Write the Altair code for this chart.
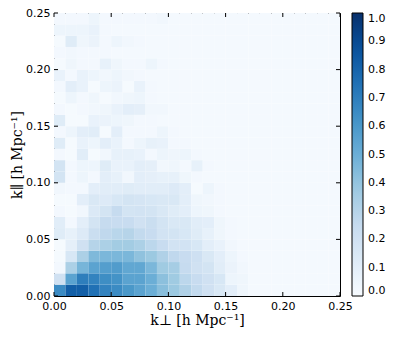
import altair as alt
import pandas as pd

# bin edges along both axes (h/Mpc)
k_edges = [0.00, 0.01, 0.02, 0.03, 0.04, 0.05, 0.06, 0.07, 0.08, 0.09, 0.10,
           0.11, 0.12, 0.13, 0.14, 0.15, 0.16, 0.17, 0.18, 0.19, 0.20,
           0.21, 0.22, 0.23, 0.24, 0.25]

tick_values = [0.0, 0.05, 0.10, 0.15, 0.20, 0.25]
cbar_values = [0.0, 0.1, 0.2, 0.3, 0.4, 0.5, 0.6, 0.7, 0.8, 0.9, 1.0]

b = 0.015  # empty background level

# normalised power, one list per k_parallel bin (bottom row first)
row_00 = [0.65, 0.82, 0.82, 0.75, 0.68, 0.65, 0.60, 0.55, 0.50, 0.43, 0.38, 0.32, 0.26, 0.20, 0.15, 0.10, 0.04, b, b, b, b, b, b, b, b]
row_01 = [0.20, 0.55, 0.70, 0.68, 0.64, 0.62, 0.55, 0.55, 0.50, 0.42, 0.37, 0.28, 0.24, 0.20, 0.16, 0.05, 0.04, b, b, b, b, b, b, b, b]
row_02 = [0.02, 0.33, 0.47, 0.55, 0.57, 0.58, 0.53, 0.53, 0.46, 0.37, 0.35, 0.25, 0.20, 0.18, 0.11, 0.06, 0.03, b, b, b, b, b, b, b, b]
row_03 = [0.01, 0.16, 0.33, 0.45, 0.46, 0.46, 0.46, 0.41, 0.38, 0.32, 0.27, 0.24, 0.21, 0.15, 0.10, 0.05, 0.02, b, b, b, b, b, b, b, b]
row_04 = [0.01, 0.09, 0.20, 0.30, 0.33, 0.36, 0.36, 0.33, 0.28, 0.24, 0.19, 0.19, 0.16, 0.10, 0.07, 0.03, b, b, b, b, b, b, b, b, b]
row_05 = [0.12, 0.08, 0.13, 0.23, 0.27, 0.29, 0.30, 0.26, 0.24, 0.19, 0.18, 0.16, 0.12, 0.08, 0.04, 0.02, b, b, b, b, b, b, b, b, b]
row_06 = [0.11, 0.02, 0.10, 0.18, 0.25, 0.24, 0.24, 0.20, 0.23, 0.18, 0.15, 0.15, 0.11, 0.10, 0.04, 0.02, b, b, b, b, b, b, b, b, b]
row_07 = [0.02, 0.01, 0.03, 0.14, 0.18, 0.25, 0.18, 0.19, 0.18, 0.15, 0.12, 0.10, 0.05, 0.04, 0.02, b, b, b, b, b, b, b, b, b, b]
row_08 = [0.01, 0.01, 0.10, 0.15, 0.13, 0.16, 0.18, 0.17, 0.16, 0.15, 0.15, 0.10, 0.04, 0.03, 0.02, b, b, b, b, b, b, b, b, b, b]
row_09 = [0.03, 0.02, 0.02, 0.10, 0.11, 0.11, 0.12, 0.11, 0.11, 0.11, 0.13, 0.10, 0.01, 0.05, 0.02, b, b, b, b, b, b, b, b, b, b]
row_10 = [0.18, 0.02, 0.05, 0.02, 0.10, 0.08, 0.03, 0.10, 0.09, 0.08, 0.08, 0.04, 0.02, b, b, b, b, b, b, b, b, b, b, b, b]
row_11 = [0.18, 0.02, 0.05, 0.05, 0.12, 0.07, 0.07, 0.10, 0.09, 0.03, 0.04, 0.02, 0.08, 0.02, b, b, b, b, b, b, b, b, b, b, b]
row_12 = [0.02, 0.01, 0.11, 0.01, 0.03, 0.08, 0.08, 0.07, 0.02, 0.05, 0.04, 0.05, 0.02, b, b, b, b, b, b, b, b, b, b, b, b]
row_13 = [0.12, 0.01, 0.07, 0.05, 0.10, 0.07, 0.02, 0.05, 0.08, 0.07, 0.02, 0.02, b, b, b, b, b, b, b, b, b, b, b, b, b]
row_14 = [0.02, 0.05, 0.10, 0.11, 0.01, 0.10, 0.02, 0.02, 0.02, 0.05, 0.02, b, b, b, b, b, b, b, b, b, b, b, b, b, b]
row_15 = [0.12, 0.01, 0.01, 0.07, 0.06, 0.05, 0.04, 0.02, 0.02, b, b, b, b, b, b, b, b, b, b, b, b, b, b, b, b]
row_16 = [0.02, 0.01, 0.02, 0.03, 0.04, 0.07, 0.10, 0.09, 0.03, 0.03, b, b, b, b, b, b, b, b, b, b, b, b, b, b, b]
row_17 = [0.01, 0.05, 0.02, 0.04, 0.01, 0.03, 0.04, 0.05, 0.02, b, b, b, b, b, b, b, b, b, b, b, b, b, b, b, b]
row_18 = [0.02, 0.10, 0.07, 0.01, 0.05, 0.06, 0.01, 0.07, 0.02, b, b, b, b, b, b, b, b, b, b, b, b, b, b, b, b]
row_19 = [0.07, 0.02, 0.07, 0.05, 0.03, 0.05, 0.03, 0.02, b, b, b, b, b, b, b, b, b, b, b, b, b, b, b, b, b]
row_20 = [0.01, 0.04, 0.02, 0.02, 0.08, 0.04, 0.02, 0.02, 0.05, 0.02, b, b, b, b, b, b, b, b, b, b, b, b, b, b, b]
row_21 = [0.02, 0.03, 0.02, 0.02, 0.02, b, b, b, b, b, b, b, b, b, b, b, b, b, b, b, b, b, b, b, b]
row_22 = [0.01, 0.12, 0.04, 0.06, 0.02, 0.05, 0.03, 0.02, b, b, b, b, b, b, b, b, b, b, b, b, b, b, b, b, b]
row_23 = [0.05, 0.05, 0.05, 0.07, 0.02, b, b, b, b, b, b, b, b, b, b, b, b, b, b, b, b, b, b, b, b]
row_24 = [0.02, 0.02, 0.02, 0.05, 0.02, 0.02, 0.02, 0.02, 0.02, 0.03, b, b, b, b, b, b, b, b, b, b, b, b, b, b, b]

rows = [row_00, row_01, row_02, row_03, row_04, row_05, row_06, row_07, row_08,
        row_09, row_10, row_11, row_12, row_13, row_14, row_15, row_16, row_17,
        row_18, row_19, row_20, row_21, row_22, row_23, row_24]

records = []
for i, row in enumerate(rows):
    for j, v in enumerate(row):
        records.append({"xp0": k_edges[j], "xp1": k_edges[j + 1],
                        "kp0": k_edges[i], "kp1": k_edges[i + 1], "val": v})
df = pd.DataFrame(records)
ticks = pd.DataFrame({"t": tick_values})

blues_stops = [0.0, 0.125, 0.25, 0.375, 0.5, 0.625, 0.75, 0.875, 1.0]
blues_colors = ["#f7fbff", "#deebf7", "#c6dbef", "#9ecae1", "#6baed6",
                "#4292c6", "#2171b5", "#08519c", "#08306b"]

W, H = 286, 283
xscale = alt.Scale(domain=[0, 0.25], nice=False, zero=False, padding=0)
yscale = alt.Scale(domain=[0, 0.25], nice=False, zero=False, padding=0)

heat = alt.Chart(df).mark_rect(strokeWidth=0).encode(
    x=alt.X("xp0:Q", scale=xscale,
            axis=alt.Axis(values=tick_values, format=".2f", title="k⊥ [h Mpc⁻¹]",
                          labelFlush=False, titleY=24, titleBaseline="middle")),
    x2="xp1:Q",
    y=alt.Y("kp0:Q", scale=yscale,
            axis=alt.Axis(values=tick_values, format=".2f", title="k∥ [h Mpc⁻¹]",
                          labelFlush=False,
                          titleX=-37, titleY=H / 2, titleAngle=270,
                          titleBaseline="middle")),
    y2="kp1:Q",
    color=alt.Color("val:Q",
                    scale=alt.Scale(domain=blues_stops, range=blues_colors,
                                    interpolate="rgb", clamp=True),
                    legend=alt.Legend(values=cbar_values, format=".1f", title=None,
                                      gradientLength=H, gradientThickness=11,
                                      offset=12, padding=0, labelOffset=5,
                                      labelFontSize=11, labelFont="DejaVu Sans",
                                      labelColor="black", labelOverlap=False,
                                      gradientStrokeColor="black",
                                      gradientStrokeWidth=1)),
)

tick_bottom = alt.Chart(ticks).mark_rule(color="black", strokeWidth=1).encode(
    x=alt.X("t:Q", scale=xscale), y=alt.value(H), y2=alt.value(H - 4))
tick_top = alt.Chart(ticks).mark_rule(color="black", strokeWidth=1).encode(
    x=alt.X("t:Q", scale=xscale), y=alt.value(0), y2=alt.value(4))
tick_left = alt.Chart(ticks).mark_rule(color="black", strokeWidth=1).encode(
    y=alt.Y("t:Q", scale=yscale), x=alt.value(0), x2=alt.value(4))
tick_right = alt.Chart(ticks).mark_rule(color="black", strokeWidth=1).encode(
    y=alt.Y("t:Q", scale=yscale), x=alt.value(W), x2=alt.value(W - 4))

chart = alt.layer(heat, tick_bottom, tick_top, tick_left, tick_right).properties(
    width=W, height=H,
    autosize=alt.AutoSizeParams(type="none"),
    padding={"left": 46, "top": 5, "right": 51, "bottom": 33},
).configure_view(
    stroke="black", strokeWidth=1
).configure_axis(
    domain=False, ticks=False, grid=False, labelPadding=4,
    labelFont="DejaVu Sans", labelFontSize=11, labelColor="black",
    titleFont="DejaVu Serif", titleFontSize=14, titleFontWeight="normal",
    titleColor="black",
)

chart.save("out.html", embed_options={"renderer": "svg", "actions": False})
